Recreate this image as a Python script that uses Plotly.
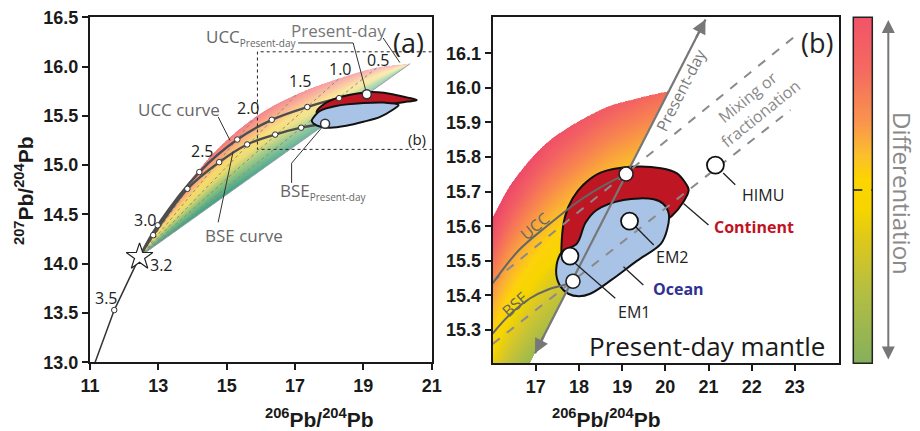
import base64
import struct
import zlib

import numpy as np
import plotly.graph_objects as go

# ---------------- panel (a): Pb growth curves ----------------
# single-stage growth line up to the 3.2 Ga starting point (star)
growth_x = [11.15, 11.71, 12.45]
growth_y = [13.00, 13.53, 14.07]
star_x, star_y = 12.45, 14.07

# model ages (Ga) marked along the curves
ages = ["3.0", "2.5", "2.0", "1.5", "1.0", "0.5"]
ucc_x = [12.45, 12.98, 14.20, 15.31, 16.32, 17.36, 18.29, 19.10]
ucc_y = [14.07, 14.39, 14.93, 15.26, 15.46, 15.59, 15.68, 15.72]
bse_x = [12.45, 12.85, 13.85, 14.78, 15.60, 16.42, 17.18, 17.88]
bse_y = [14.07, 14.29, 14.76, 15.03, 15.21, 15.31, 15.38, 15.42]
# highest-mu growth curve bounding the field (3.0 ... 0 Ga)
upper_x = [12.45, 13.08, 14.53, 15.85, 17.06, 18.29, 19.40, 20.37]
upper_y = [14.07, 14.45, 15.09, 15.49, 15.72, 15.88, 15.99, 16.03]
age_lbl_x = [12.61, 14.30, 15.63, 17.15, 18.32, 19.44]
age_lbl_y = [14.44, 15.14, 15.58, 15.85, 15.98, 16.07]

cont_a_x = [20.56, 20.30, 19.98, 19.60, 19.10, 18.70, 18.22, 17.85, 17.63, 17.80, 18.20, 18.80, 19.50, 20.00, 20.30, 20.56]
cont_a_y = [15.66, 15.685, 15.71, 15.735, 15.74, 15.72, 15.68, 15.62, 15.54, 15.49, 15.50, 15.56, 15.60, 15.63, 15.645, 15.66]
ocean_a_x = [20.03, 19.60, 19.00, 18.20, 17.73, 17.60, 17.49, 17.55, 17.75, 18.03, 18.50, 19.00, 19.49, 19.85, 20.03]
ocean_a_y = [15.61, 15.635, 15.63, 15.60, 15.55, 15.51, 15.45, 15.42, 15.39, 15.38, 15.40, 15.44, 15.49, 15.56, 15.61]

inset_x = [21.0, 15.9, 15.9, 21.0]
inset_y = [16.15, 16.15, 15.16, 15.16]

# ---------------- panel (b): present-day mantle ----------------
arc_x = [16.00, 16.50, 17.33, 18.49, 19.30, 20.08]
arc_y = [15.627, 15.735, 15.849, 15.936, 15.968, 15.991]
geo_x = [16.98, 20.93]           # present-day geochron (arrow ends)
geo_y = [15.233, 16.198]
ucc_b_x = [16.00, 16.60, 17.25, 18.03, 18.60, 19.09]
ucc_b_y = [15.435, 15.53, 15.60, 15.676, 15.72, 15.751]
bse_b_x = [16.00, 16.40, 16.87, 17.30, 17.64, 17.86]
bse_b_y = [15.29, 15.345, 15.392, 15.418, 15.43, 15.441]
mix_hi_x = [16.00, 22.97]
mix_hi_y = [15.44, 16.146]
mix_lo_x = [16.00, 22.90]
mix_lo_y = [15.26, 15.936]

cont_b_x = [20.42, 20.54, 20.45, 20.27, 19.90, 19.19, 18.50, 18.10, 17.85, 17.68, 17.60, 17.62, 17.80, 18.10, 18.60, 19.30, 19.90, 20.15, 20.42]
cont_b_y = [15.671, 15.705, 15.728, 15.753, 15.768, 15.772, 15.755, 15.72, 15.68, 15.63, 15.56, 15.50, 15.47, 15.50, 15.56, 15.60, 15.61, 15.63, 15.671]
ocean_b_x = [17.95, 18.15, 18.41, 19.03, 19.73, 19.95, 20.08, 20.04, 19.90, 19.34, 18.75, 18.26, 18.00, 17.75, 17.55, 17.47, 17.60, 17.95]
ocean_b_y = [15.55, 15.61, 15.647, 15.676, 15.678, 15.665, 15.635, 15.59, 15.55, 15.50, 15.445, 15.405, 15.398, 15.405, 15.43, 15.474, 15.525, 15.55]

end_names = ["EM1", "EM2", "HIMU"]
end_x = [17.79, 19.17, 21.16]
end_y = [15.514, 15.615, 15.777]
pd_ucc = (19.09, 15.751)
pd_bse = (17.86, 15.441)

# ---------------- helpers ----------------
def png_uri(rgba):
    h, w, _ = rgba.shape
    raw = b"".join(b"\x00" + rgba[i].tobytes() for i in range(h))

    def chunk(tag, data):
        c = struct.pack(">I", len(data)) + tag + data
        return c + struct.pack(">I", zlib.crc32(tag + data) & 0xFFFFFFFF)

    png = (b"\x89PNG\r\n\x1a\n"
           + chunk(b"IHDR", struct.pack(">IIBBBBB", w, h, 8, 6, 0, 0, 0))
           + chunk(b"IDAT", zlib.compress(raw, 9))
           + chunk(b"IEND", b""))
    return "data:image/png;base64," + base64.b64encode(png).decode()


def hex2rgb(h):
    return [int(h[i:i + 2], 16) for i in (1, 3, 5)]


def ramp(t, stops):
    pos = [s[0] for s in stops]
    cols = np.array([hex2rgb(s[1]) for s in stops], float)
    return np.stack([np.interp(t, pos, cols[:, k]) for k in range(3)], axis=-1)


def smooth(xs, ys, n=24):
    P = np.column_stack([xs, ys]).astype(float)
    P = np.vstack([2 * P[0] - P[1], P, 2 * P[-1] - P[-2]])
    out = []
    t = np.linspace(0, 1, n, endpoint=False)[:, None]
    for i in range(1, len(P) - 2):
        p0, p1, p2, p3 = P[i - 1], P[i], P[i + 1], P[i + 2]
        out.append(0.5 * (2 * p1 + (-p0 + p2) * t + (2 * p0 - 5 * p1 + 4 * p2 - p3) * t ** 2
                          + (-p0 + 3 * p1 - 3 * p2 + p3) * t ** 3))
    out.append(P[-2][None, :])
    return np.vstack(out)


# ---------------- gradient fill, panel (a) ----------------
stops_a = [(0.0, "#2e9a80"), (0.25, "#86bf74"), (0.45, "#e9d862"), (0.6, "#f8d862"),
           (0.8, "#f8a172"), (1.0, "#f26d78")]
tip_x, tip_y = upper_x[-1], upper_y[-1]
ax0, ax1, ay0, ay1 = 12.40, 20.45, 14.00, 16.10
nx, ny = 440, 420
gx = ax0 + (np.arange(nx) + 0.5) * (ax1 - ax0) / nx
gy = ay1 - (np.arange(ny) + 0.5) * (ay1 - ay0) / ny
X, Y = np.meshgrid(gx, gy)
uc = smooth(upper_x, upper_y)
up = np.interp(X, uc[:, 0], uc[:, 1])
low = star_y + (X - star_x) * (tip_y - star_y) / (tip_x - star_x)
inside = (X >= star_x) & (X <= tip_x) & (Y >= low) & (Y <= up)
f = np.clip((Y - low) / np.maximum(up - low, 1e-6), 0, 1)
rgb = ramp(f, stops_a)
wh = np.clip((X - 15.0) / 5.5, 0, 1) * 0.55
rgb = rgb * (1 - wh[..., None]) + 255 * wh[..., None]
img_a = np.dstack([rgb, inside * 240.0]).round().astype(np.uint8)

# ---------------- gradient fill, panel (b) ----------------
stops_b = [(0.0, "#ec4469"), (0.1, "#f36262"), (0.18, "#f8864f"), (0.26, "#fbb234"),
           (0.33, "#fdd30a"), (0.40, "#f5d400"), (0.48, "#d4c62e"), (0.58, "#a8bc48"),
           (0.68, "#7cb55a")]
bx0, bx1, by0, by1 = 16.0, 20.2, 15.2, 16.0
nbx, nby = 380, 420
hx = bx0 + (np.arange(nbx) + 0.5) * (bx1 - bx0) / nbx
hy = by1 - (np.arange(nby) + 0.5) * (by1 - by0) / nby
XB, YB = np.meshgrid(hx, hy)
ac = smooth(arc_x, arc_y)
arc = np.interp(XB, ac[:, 0], ac[:, 1], right=-1)
geo_slope = (geo_y[1] - geo_y[0]) / (geo_x[1] - geo_x[0])
geo = geo_y[0] + (XB - geo_x[0]) * geo_slope
inside_b = (YB <= arc) & (YB >= geo)
d = (arc - YB) + 0.03 * (XB - 16.0)
rgb_b = ramp(d, stops_b)
img_b = np.dstack([rgb_b, inside_b * 255.0]).round().astype(np.uint8)

# ---------------- colour strip ----------------
stops_c = [(0.0, "#f25468"), (0.15, "#f46a60"), (0.3, "#f9944e"), (0.4, "#fcc02c"),
           (0.47, "#fdd500"), (0.56, "#f7d400"), (0.65, "#dcc81e"), (0.78, "#b8bf40"),
           (1.0, "#86b05c")]
tc = np.linspace(0, 1, 300)
strip = ramp(tc, stops_c)[:, None, :].repeat(4, axis=1)
img_c = np.dstack([strip, np.full(strip.shape[:2], 255.0)]).round().astype(np.uint8)

# ---------------- figure ----------------
fig = go.Figure()
GRAY = "#555555"


def line(x, y, xa, ya, color=GRAY, width=2, dash=None, shape="linear"):
    fig.add_trace(go.Scatter(x=x, y=y, xaxis=xa, yaxis=ya, mode="lines",
                             line=dict(color=color, width=width, dash=dash, shape=shape),
                             hoverinfo="skip", showlegend=False))


def field(x, y, xa, ya, color):
    fig.add_trace(go.Scatter(x=x, y=y, xaxis=xa, yaxis=ya, mode="lines", fill="toself",
                             fillcolor=color, line=dict(color="#111111", width=2, shape="spline", smoothing=1),
                             hoverinfo="skip", showlegend=False))


def dots(x, y, xa, ya, size, lw=1.2, lc="#333333"):
    fig.add_trace(go.Scatter(x=x, y=y, xaxis=xa, yaxis=ya, mode="markers",
                             marker=dict(size=size, color="white", line=dict(color=lc, width=lw)),
                             hoverinfo="skip", showlegend=False))


# panel (a)
for ex, ey in zip(upper_x[1:-1], upper_y[1:-1]):
    line([star_x, ex], [star_y, ey], "x", "y", color="#8a8a8a", width=1, dash="dot")
line([star_x, tip_x], [star_y, tip_y], "x", "y", color="#a0a0a0", width=1)
line(growth_x, growth_y, "x", "y", color="#333333", width=1.5)
line(ucc_x, ucc_y, "x", "y", color="#4d4d4d", width=2.4, shape="spline")
line(bse_x, bse_y, "x", "y", color="#4d4d4d", width=2.4, shape="spline")
field(cont_a_x, cont_a_y, "x", "y", "#be1622")
field(ocean_a_x, ocean_a_y, "x", "y", "#a9c3e6")
line(inset_x, inset_y, "x", "y", color="#222222", width=1, dash="dot")
# leaders (a)
line([17.09, 18.70, 19.10], [16.24, 16.24, 15.72], "x", "y", color="#333333", width=1)
line([19.58, 20.07], [16.29, 16.04], "x", "y", color="#333333", width=1)
line([17.88, 16.90, 16.90], [15.42, 15.02, 14.82], "x", "y", color="#333333", width=1)
line([14.75, 15.10], [15.49, 15.25], "x", "y", color="#333333", width=1)
line([14.75, 15.19], [14.42, 15.14], "x", "y", color="#333333", width=1)
dots(ucc_x[1:-1] + bse_x[1:-1] + [growth_x[1]], ucc_y[1:-1] + bse_y[1:-1] + [growth_y[1]], "x", "y", 5.5, lw=1)
dots([ucc_x[-1], bse_x[-1]], [ucc_y[-1], bse_y[-1]], "x", "y", 9, lw=1.5)
fig.add_trace(go.Scatter(x=[star_x], y=[star_y], xaxis="x", yaxis="y", mode="markers",
                         marker=dict(symbol="star", size=20, color="white", line=dict(color="#222", width=1.2)),
                         hoverinfo="skip", showlegend=False))

# panel (b)
field(cont_b_x, cont_b_y, "x2", "y2", "#be1622")
field(ocean_b_x, ocean_b_y, "x2", "y2", "#a9c3e6")
line(mix_hi_x, mix_hi_y, "x2", "y2", color="#8a8a8a", width=2, dash="dash")
line(mix_lo_x, mix_lo_y, "x2", "y2", color="#8a8a8a", width=2, dash="dash")
line(ucc_b_x, ucc_b_y, "x2", "y2", color="#666666", width=2, shape="spline")
line(bse_b_x, bse_b_y, "x2", "y2", color="#666666", width=2, shape="spline")
line(geo_x, geo_y, "x2", "y2", color="#777777", width=2.2)
# leaders (b)
for lx, ly in [([21.34, 21.62], [15.754, 15.72]), ([20.42, 21.0], [15.666, 15.604]),
               ([19.30, 19.73], [15.60, 15.546]), ([19.03, 19.49], [15.483, 15.43]),
               ([17.91, 18.84], [15.493, 15.392])]:
    line(lx, ly, "x2", "y2", color="#222222", width=1.3)
dots([pd_ucc[0], pd_bse[0]], [pd_ucc[1], pd_bse[1]], "x2", "y2", 14, lw=1.6, lc="#222")
dots(end_x, end_y, "x2", "y2", 17, lw=1.8, lc="#111")

# ---------------- images ----------------
images = [
    dict(source=png_uri(img_a), xref="x", yref="y", x=ax0, y=ay1, sizex=ax1 - ax0, sizey=ay1 - ay0,
         xanchor="left", yanchor="top", sizing="stretch", layer="below"),
    dict(source=png_uri(img_b), xref="x2", yref="y2", x=bx0, y=by1, sizex=bx1 - bx0, sizey=by1 - by0,
         xanchor="left", yanchor="top", sizing="stretch", layer="below"),
    dict(source=png_uri(img_c), xref="paper", yref="paper", x=853.3 / 920, y=(431 - 17.3) / 431,
         sizex=19 / 920, sizey=346 / 431, xanchor="left", yanchor="top", sizing="stretch", layer="above"),
]

# ---------------- annotations ----------------
ann = []


def label(text, x, y, xref, yref, size=16, color="#222222", angle=0, bold=False,
          xanchor="center", family="Open Sans"):
    ann.append(dict(text=text, x=x, y=y, xref=xref, yref=yref, showarrow=False, textangle=angle,
                    xanchor=xanchor, yanchor="middle",
                    font=dict(family=family, size=size, color=color, weight="bold" if bold else "normal")))


SUB = "<sub><span style='font-size:10px'>Present-day</span></sub>"
for a, lx, ly in zip(ages, age_lbl_x, age_lbl_y):
    label(a, lx, ly, "x", "y", size=16)
label("3.2", 13.10, 13.99, "x", "y", size=16)
label("3.5", 11.47, 13.65, "x", "y", size=16)
label("UCC" + SUB, 14.33, 16.30, "x", "y", size=17, color="#666666", xanchor="left")
label("Present-day", 18.26, 16.37, "x", "y", size=17, color="#777777")
label("UCC curve", 13.59, 15.56, "x", "y", size=17, color="#666666")
label("BSE curve", 15.50, 14.29, "x", "y", size=17, color="#666666")
label("BSE" + SUB, 16.50, 14.73, "x", "y", size=17, color="#666666", xanchor="left")
label("(b)", 20.56, 15.27, "x", "y", size=15)
label("(a)", 20.31, 16.24, "x", "y", size=27)

label("(b)", 23.51, 16.13, "x2", "y2", size=27)
label("Present-day mantle", 20.97, 15.255, "x2", "y2", size=26, color="#1a1a1a")
label("HIMU", 22.27, 15.69, "x2", "y2", size=16)
label("Continent", 22.06, 15.597, "x2", "y2", size=16, color="#c1121f", bold=True)
label("EM2", 20.16, 15.512, "x2", "y2", size=16)
label("Ocean", 20.30, 15.418, "x2", "y2", size=16, color="#2e3192", bold=True)
label("EM1", 19.28, 15.353, "x2", "y2", size=16)
label("UCC", 16.98, 15.60, "x2", "y2", size=16, color="#666666", angle=-40)
label("BSE", 16.52, 15.375, "x2", "y2", size=16, color="#666666", angle=-42)
label("Present-day", 20.36, 15.994, "x2", "y2", size=16, color="#7a7a7a", angle=-63)
label("Mixing or<br>fractionation", 22.05, 15.95, "x2", "y2", size=16, color="#8a8a8a", angle=-39)

# arrowheads on the geochron
for hx_, hy_, tx_ in [(geo_x[1], geo_y[1], 20.70), (geo_x[0], geo_y[0], 17.20)]:
    ty_ = geo_y[0] + (tx_ - geo_x[0]) * geo_slope
    ann.append(dict(x=hx_, y=hy_, ax=tx_, ay=ty_, xref="x2", yref="y2", axref="x2", ayref="y2",
                    text="", showarrow=True, arrowhead=2, arrowsize=1.3, arrowwidth=2.2,
                    arrowcolor="#777777"))

# differentiation arrow beside the colour strip
ann.append(dict(x=888.3 / 920, y=(431 - 20) / 431, xref="paper", yref="paper", ax=0, ay=341,
                text="", showarrow=True, arrowhead=2, arrowside="end+start", arrowsize=1.3,
                arrowwidth=2, arrowcolor="#777777"))
label("Differentiation", 903 / 920, (431 - 193) / 431, "paper", "paper", size=24,
      color="#8a8a8a", angle=90)

title_font = dict(family="Liberation Sans", size=21, color="#1a1a1a", weight="bold")
for cx in (263 / 920, 663 / 920):
    ann.append(dict(text="<sup>206</sup>Pb/<sup>204</sup>Pb", x=cx, y=(431 - 418) / 431,
                    xref="paper", yref="paper", showarrow=False, font=title_font, yanchor="middle"))
ann.append(dict(text="<sup>207</sup>Pb/<sup>204</sup>Pb", x=24 / 920, y=(431 - 191) / 431,
                xref="paper", yref="paper", showarrow=False, font=title_font, textangle=-90,
                xanchor="center", yanchor="middle"))

# ---------------- shapes ----------------
shapes = [
    dict(type="rect", xref="paper", yref="paper", x0=853.3 / 920, x1=872.3 / 920,
         y0=(431 - 363.3) / 431, y1=(431 - 17.3) / 431, line=dict(color="#222222", width=1.5)),
    dict(type="line", xref="paper", yref="paper", x0=853.3 / 920, x1=872.3 / 920,
         y0=(431 - 190) / 431, y1=(431 - 190) / 431, line=dict(color="#111111", width=1.5, dash="dash")),
]

axis_common = dict(showgrid=False, zeroline=False, showline=True, mirror=True, linecolor="#1a1a1a",
                   linewidth=2, ticks="outside", ticklen=6, tickwidth=2, tickcolor="#1a1a1a",
                   automargin=False,
                   tickfont=dict(family="Liberation Sans", size=18, color="#1a1a1a", weight="bold"))

fig.update_layout(
    width=920, height=431, margin=dict(l=0, r=0, t=0, b=0),
    paper_bgcolor="white", plot_bgcolor="rgba(0,0,0,0)", showlegend=False,
    xaxis=dict(domain=[90 / 920, 431.7 / 920], range=[11, 21], tickvals=list(range(11, 22, 2)),
               anchor="y", **axis_common),
    yaxis=dict(domain=[(431 - 362.3) / 431, (431 - 17.3) / 431], range=[13, 16.5],
               tickvals=[13 + 0.5 * i for i in range(8)], tickformat=".1f", anchor="x", **axis_common),
    xaxis2=dict(domain=[492.7 / 920, 839.3 / 920], range=[16, 24.03], tickvals=list(range(17, 24)),
                anchor="y2", **axis_common),
    yaxis2=dict(domain=[(431 - 363.3) / 431, (431 - 17.3) / 431], range=[15.204, 16.204],
                tickvals=[round(15.3 + 0.1 * i, 1) for i in range(9)], tickformat=".1f", anchor="x2",
                **axis_common),
    images=images, annotations=ann, shapes=shapes,
)

fig.write_html("out.html")
